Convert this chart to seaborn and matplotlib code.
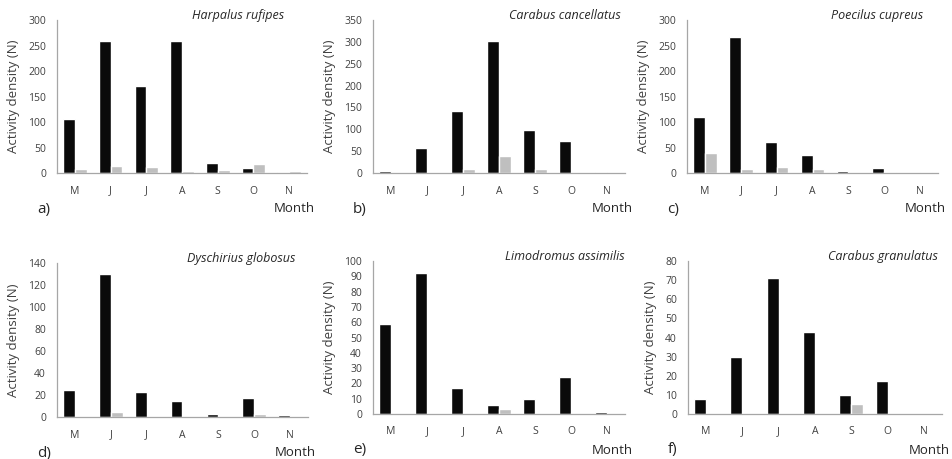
import pandas as pd
import matplotlib
matplotlib.use("Agg")
import matplotlib.pyplot as plt
import seaborn as sns

months = ["M", "J", "J", "A", "S", "O", "N"]
series_names = ["Series 1", "Series 2"]

species = ["Harpalus rufipes", "Carabus cancellatus", "Poecilus cupreus",
           "Dyschirius globosus", "Limodromus assimilis", "Carabus granulatus"]
panel_labels = ["a)", "b)", "c)", "d)", "e)", "f)"]

harpalus_black = [105, 258, 170, 258, 20, 10, 2]
harpalus_grey = [7, 13, 12, 4, 6, 18, 3]
cancellatus_black = [5, 58, 141, 302, 98, 73, 2]
cancellatus_grey = [0, 0, 9, 38, 10, 1, 1]
poecilus_black = [110, 267, 60, 35, 3, 10, 0]
poecilus_grey = [40, 8, 12, 7, 0, 1, 1]
dyschirius_black = [25, 130, 23, 15, 3, 17, 2]
dyschirius_grey = [0, 5, 0, 0, 0, 3, 0]
limodromus_black = [59, 92, 17, 6, 10, 24, 1]
limodromus_grey = [0, 0, 0, 3, 0, 0, 0]
granulatus_black = [8, 30, 71, 43, 10, 17, 0]
granulatus_grey = [0, 0, 0, 0, 5, 0, 0]

black_series = [harpalus_black, cancellatus_black, poecilus_black,
                dyschirius_black, limodromus_black, granulatus_black]
grey_series = [harpalus_grey, cancellatus_grey, poecilus_grey,
               dyschirius_grey, limodromus_grey, granulatus_grey]

y_max = [300, 350, 300, 140, 100, 80]
y_step = [50, 50, 50, 20, 10, 10]

# axes boxes in pixels: left, right, top, bottom
boxes = [(57, 307, 20, 173), (373, 625, 20, 173), (687, 938, 20, 173),
         (57, 308, 263, 417), (373, 625, 261, 414), (688, 942, 261, 414)]
title_x = [0.91, 0.985, 0.94, 0.95, 1.0, 0.985]

W, H = 952, 459
sns.set_style("white")
plt.rcParams["font.family"] = ["Open Sans", "DejaVu Sans"]
text_col = "#404040"
spine_col = "#a6a6a6"

fig = plt.figure(figsize=(W / 100, H / 100), dpi=100)

for i in range(6):
    l, r, t, b = boxes[i]
    ax = fig.add_axes([l / W, 1 - b / H, (r - l) / W, (b - t) / H])
    pos = list(range(len(months)))
    df = pd.DataFrame({
        "pos": pos * 2,
        "value": black_series[i] + grey_series[i],
        "series": [series_names[0]] * 7 + [series_names[1]] * 7,
    })
    sns.barplot(data=df, x="pos", y="value", hue="series", ax=ax,
                palette=["#0a0a0a", "#bfbfbf"], width=0.66, gap=0,
                legend=False, errorbar=None, saturation=1)
    ax.set_xlim(-0.5, 6.5)
    ax.set_ylim(0, y_max[i])
    ax.set_yticks(range(0, y_max[i] + 1, y_step[i]))
    ax.set_xticks(pos)
    ax.set_xticklabels(months)
    ax.tick_params(length=0, labelsize=7.5, labelcolor=text_col)
    ax.tick_params(axis="x", pad=9)
    ax.tick_params(axis="y", pad=8)
    ax.set_xlabel("")
    ax.set_ylabel("Activity density (N)", fontsize=9.5, color=text_col, labelpad=6)
    for s in ["top", "right"]:
        ax.spines[s].set_visible(False)
    for s in ["left", "bottom"]:
        ax.spines[s].set_color(spine_col)
        ax.spines[s].set_linewidth(0.9)
    ax.text(title_x[i], 1.03, species[i], transform=ax.transAxes, ha="right",
            va="center", style="italic", fontsize=9, color="#262626")
    fig.text((l - 20) / W, 1 - (b + 36) / H, panel_labels[i], fontsize=11,
             color="#262626", va="center", ha="left")
    fig.text((r + 8) / W, 1 - (b + 36) / H, "Month", fontsize=9.5,
             color="#262626", va="center", ha="right")

fig.savefig("out.png", dpi=100)
